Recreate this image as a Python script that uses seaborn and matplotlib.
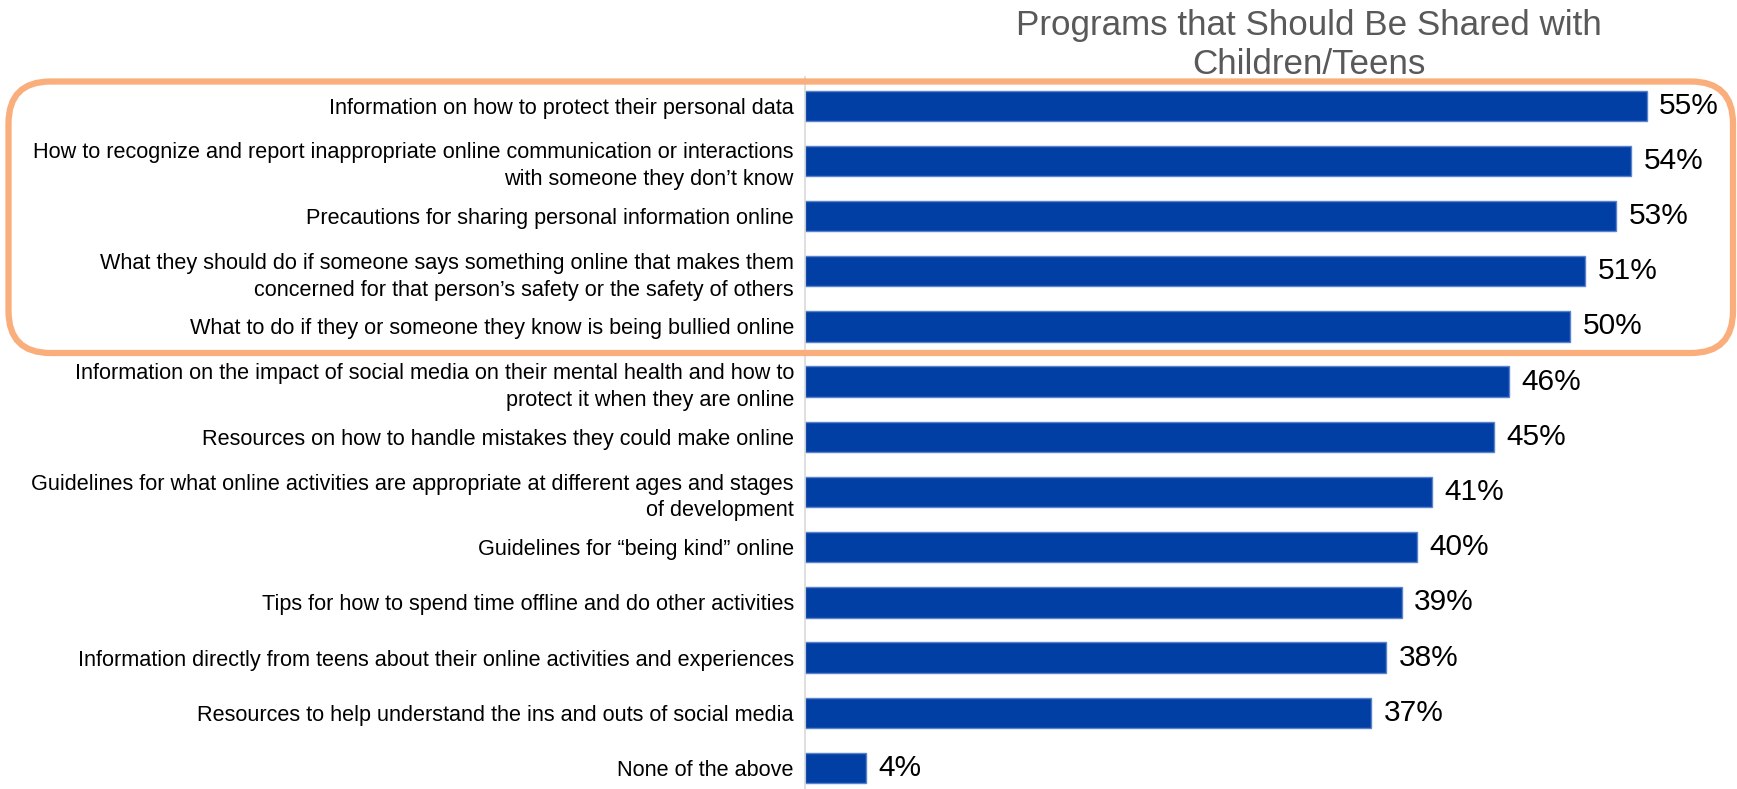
import matplotlib
matplotlib.use("Agg")
import matplotlib.pyplot as plt
from matplotlib.patches import FancyBboxPatch
import seaborn as sns
import pandas as pd

# Survey items (wrapped as they appear on the chart) and the share selecting each
categories = [
    "Information on how to protect their personal data",
    "How to recognize and report inappropriate online communication or interactions\nwith someone they don\u2019t know",
    "Precautions for sharing personal information online",
    "What they should do if someone says something online that makes them\nconcerned for that person\u2019s safety or the safety of others",
    "What to do if they or someone they know is being bullied online",
    "Information on the impact of social media on their mental health and how to\nprotect it when they are online",
    "Resources on how to handle mistakes they could make online",
    "Guidelines for what online activities are appropriate at different ages and stages\nof development",
    "Guidelines for \u201cbeing kind\u201d online",
    "Tips for how to spend time offline and do other activities",
    "Information directly from teens about their online activities and experiences",
    "Resources to help understand the ins and outs of social media",
    "None of the above",
]
values = [55, 54, 53, 51, 50, 46, 45, 41, 40, 39, 38, 37, 4]
title = "Programs that Should Be Shared with\nChildren/Teens"

BAR_BLUE = "#023FA5"
BAR_EDGE = "#5B82CC"
HIGHLIGHT = "#F9AE7B"

sns.set_theme(style="white")
plt.rcParams["font.family"] = ["Liberation Sans", "DejaVu Sans"]

df = pd.DataFrame({"item": categories, "share": values})

W, H = 1737, 789
fig = plt.figure(figsize=(W / 100, H / 100), dpi=100)
ax = fig.add_axes([805 / W, 0.0, (1723 - 805) / W, 1 - 77 / H])

sns.barplot(data=df, x="share", y="item", orient="h", color=BAR_BLUE,
            saturation=1, width=0.55, edgecolor=BAR_EDGE, linewidth=1.0, ax=ax)

ax.set_xlim(0, 60)
ax.set_ylim(12.38, -0.52)
ax.set_xlabel("")
ax.set_ylabel("")
ax.set_xticks([])
ax.tick_params(axis="y", length=0, pad=8, labelsize=15.6, labelcolor="black")
for lbl in ax.get_yticklabels():
    lbl.set_linespacing(1.36)
    lbl.set_horizontalalignment("right")
    lbl.set_multialignment("right")

for side in ["top", "right", "bottom"]:
    ax.spines[side].set_visible(False)
ax.spines["left"].set_color("#D9D9D9")
ax.spines["left"].set_linewidth(1.2)

ax.bar_label(ax.containers[0], labels=[f"{v}%" for v in values],
             padding=9, fontsize=21.5, color="black")

fig.text(1309 / W, 1 - 9 / H, title, ha="center", va="top",
         fontsize=25.2, color="#595959", linespacing=1.24)

# Rounded highlight around the top five items
box = FancyBboxPatch((0.085, (H - 353) / 100), 17.245, (353 - 81.5) / 100,
                     boxstyle="round,pad=0,rounding_size=0.42",
                     transform=fig.dpi_scale_trans, fill=False,
                     edgecolor=HIGHLIGHT, linewidth=4.5, zorder=5)
fig.patches.append(box)

fig.savefig("out.png", dpi=100)
